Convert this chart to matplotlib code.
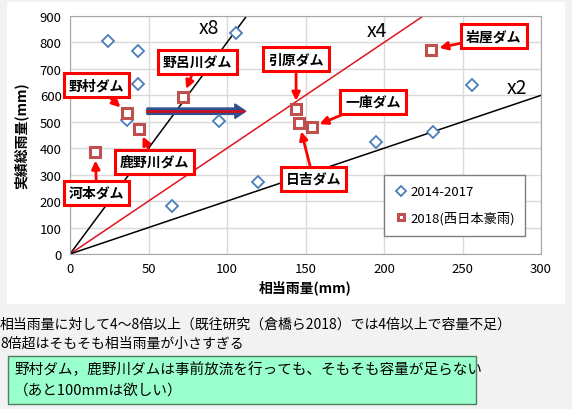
import matplotlib.pyplot as plt
from matplotlib.patches import Rectangle, FancyArrow

plt.rcParams['font.family'] = ['Noto Sans CJK JP', 'DejaVu Sans']

# 2014-2017 の実績
x_past = [24, 43, 43, 36, 95, 106, 65, 120, 195, 231, 256]
y_past = [805, 767, 643, 507, 503, 836, 182, 273, 424, 462, 640]

# 2018 (西日本豪雨)
dams = ['野村ダム', '鹿野川ダム', '野呂川ダム', '河本ダム', '引原ダム', '日吉ダム', '一庫ダム', '岩屋ダム']
x_2018 = [36, 44, 72, 16, 144, 146, 154, 230]
y_2018 = [533, 473, 595, 385, 548, 494, 479, 773]
# ラベル位置
label_x = [17, 54, 81, 17, 144, 155, 193, 270]
label_y = [639, 348, 726, 231, 737, 284, 575, 824]

ratios = [8, 4, 2]
ratio_labels = ['x8', 'x4', 'x2']
ratio_colors = ['black', '#e0141e', 'black']
ratio_label_pos = [(82, 855), (189, 847), (278, 628)]

fig = plt.figure(figsize=(5.72, 4.10), dpi=100)
fig.patch.set_facecolor('#f2f2f2')
fig.patches.append(Rectangle((7 / 572, 1 - 305 / 410), 558 / 572, 302 / 410,
                             transform=fig.transFigure, facecolor='white',
                             edgecolor='none', zorder=-5))

ax = fig.add_axes([70 / 572, 1 - 255 / 410, 471 / 572, 238 / 410])
ax.set_xlim(0, 300)
ax.set_ylim(0, 900)
ax.set_xticks(range(0, 301, 50))
ax.set_yticks(range(0, 901, 100))
ax.grid(True, color='#d9d9d9', linewidth=1)
ax.set_axisbelow(True)
ax.tick_params(length=0, labelsize=9.5, pad=6)
for s in ax.spines.values():
    s.set_color('#a6a6a6')

# 倍率線
for r, lab, c, pos in zip(ratios, ratio_labels, ratio_colors, ratio_label_pos):
    xe = min(300, 900 / r)
    ax.plot([0, xe], [0, xe * r], color=c, linewidth=1.1, zorder=2)
    ax.text(pos[0], pos[1], lab, fontsize=14, ha='left', va='center')

ax.plot(x_past, y_past, linestyle='none', marker='D', markersize=6.5,
        markerfacecolor='white', markeredgecolor='#4a7ebb', markeredgewidth=1.3,
        label='2014-2017', zorder=4)
ax.plot(x_2018, y_2018, linestyle='none', marker='s', markersize=6.5,
        markerfacecolor='white', markeredgecolor='#c0504d', markeredgewidth=2.2,
        label='2018(西日本豪雨)', zorder=5)

# 右向き矢印
ax.add_patch(FancyArrow(49, 540, 63, 0, width=24, head_width=55, head_length=7,
                        length_includes_head=True, facecolor='#2e5190',
                        edgecolor='#2e5190', zorder=3))
ax.plot([49, 110], [540, 540], color='#d01020', linewidth=2, zorder=3)

for name, px, py, lx, ly in zip(dams, x_2018, y_2018, label_x, label_y):
    ax.annotate(name, xy=(px, py), xytext=(lx, ly), fontsize=10, fontweight='bold',
                ha='center', va='center', zorder=6,
                bbox=dict(boxstyle='square,pad=0.35', facecolor='white',
                          edgecolor='#ff0000', linewidth=2.2),
                arrowprops=dict(arrowstyle='-|>', color='#ff0000', linewidth=2,
                                mutation_scale=12, shrinkA=0, shrinkB=6))

leg = ax.legend(loc='lower left', bbox_to_anchor=(0.652, 0.05), fontsize=9.5,
                handletextpad=0.2, handlelength=1, borderpad=0.8, labelspacing=1.0,
                markerscale=0.75, fancybox=False, edgecolor='#7f7f7f', framealpha=1)
leg.get_frame().set_linewidth(1)

ax.set_xlabel('相当雨量(mm)', fontsize=10, fontweight='bold', labelpad=3)
ax.set_ylabel('実績総雨量(mm)', fontsize=10, fontweight='bold', labelpad=8)

fig.text(0 / 572, 1 - 325 / 410, '相当雨量に対して4～8倍以上（既往研究（倉橋ら2018）では4倍以上で容量不足）',
         fontsize=10, ha='left', va='center')
fig.text(0 / 572, 1 - 344 / 410, '8倍超はそもそも相当雨量が小さすぎる',
         fontsize=10, ha='left', va='center')
fig.patches.append(Rectangle((8 / 572, 1 - 405 / 410), 468 / 572, 48 / 410,
                             transform=fig.transFigure, facecolor='#99ffcc',
                             edgecolor='#4f7f5f', linewidth=1))
fig.text(14 / 572, 1 - 370 / 410, '野村ダム，鹿野川ダムは事前放流を行っても、そもそも容量が足らない',
         fontsize=10.5, ha='left', va='center')
fig.text(14 / 572, 1 - 391 / 410, '（あと100mmは欲しい）',
         fontsize=10.5, ha='left', va='center')

fig.savefig('out.png', dpi=100, facecolor=fig.get_facecolor())
